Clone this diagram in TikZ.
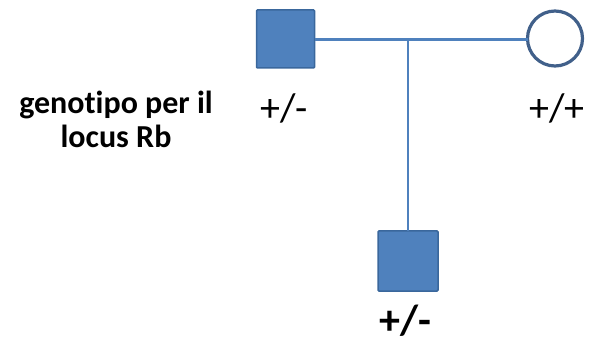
\documentclass[tikz,border=0pt]{standalone}
\usepackage{fontspec}
\setmainfont{Carlito}[Ligatures=NoCommon]
\begin{document}
\begin{tikzpicture}[x=1pt,y=-1pt,
  every node/.style={inner sep=0pt, outer sep=0pt},
  male/.style={draw=boxedge, fill=boxfill, line width=1.5pt, minimum size=58pt, rounded corners=1pt},
  female/.style={circle, draw=circedge, fill=white, line width=3.2pt, minimum size=55pt},
  link/.style={draw=boxfill, line width=2.2pt},
  geno/.style={font=\fontsize{40}{44}\selectfont},
  genob/.style={font=\fontsize{42}{46}\selectfont\bfseries},
  caption/.style={font=\fontsize{32}{34}\selectfont\bfseries, align=center}]
  \definecolor{boxfill}{HTML}{4F81BD}
  \definecolor{boxedge}{HTML}{3A679C}
  \definecolor{circedge}{HTML}{41608A}
  \useasboundingbox (0,0) rectangle (591,347);
  % parents
  \node[male] (father) at (285.5,39) {};
  \node[female] (mother) at (555,38.5) {};
  % child
  \node[male, minimum size=60pt] (child) at (408,261) {};
  % mating line and descent line
  \coordinate (mid) at (408,39.5);
  \draw[link] (father.east |- mid) -- (mother.west |- mid);
  \draw[link] (mid) -- (child.north);
  % genotypes
  \node[geno] (gf) at (284,108) {+/-};
  \node[geno] (gm) at (557,108) {+/+};
  \node[genob] (gc) at (405,321) {+/-};
  \node[caption] (lbl) at (116,119) {genotipo per il\\locus Rb};
\end{tikzpicture}
\end{document}
